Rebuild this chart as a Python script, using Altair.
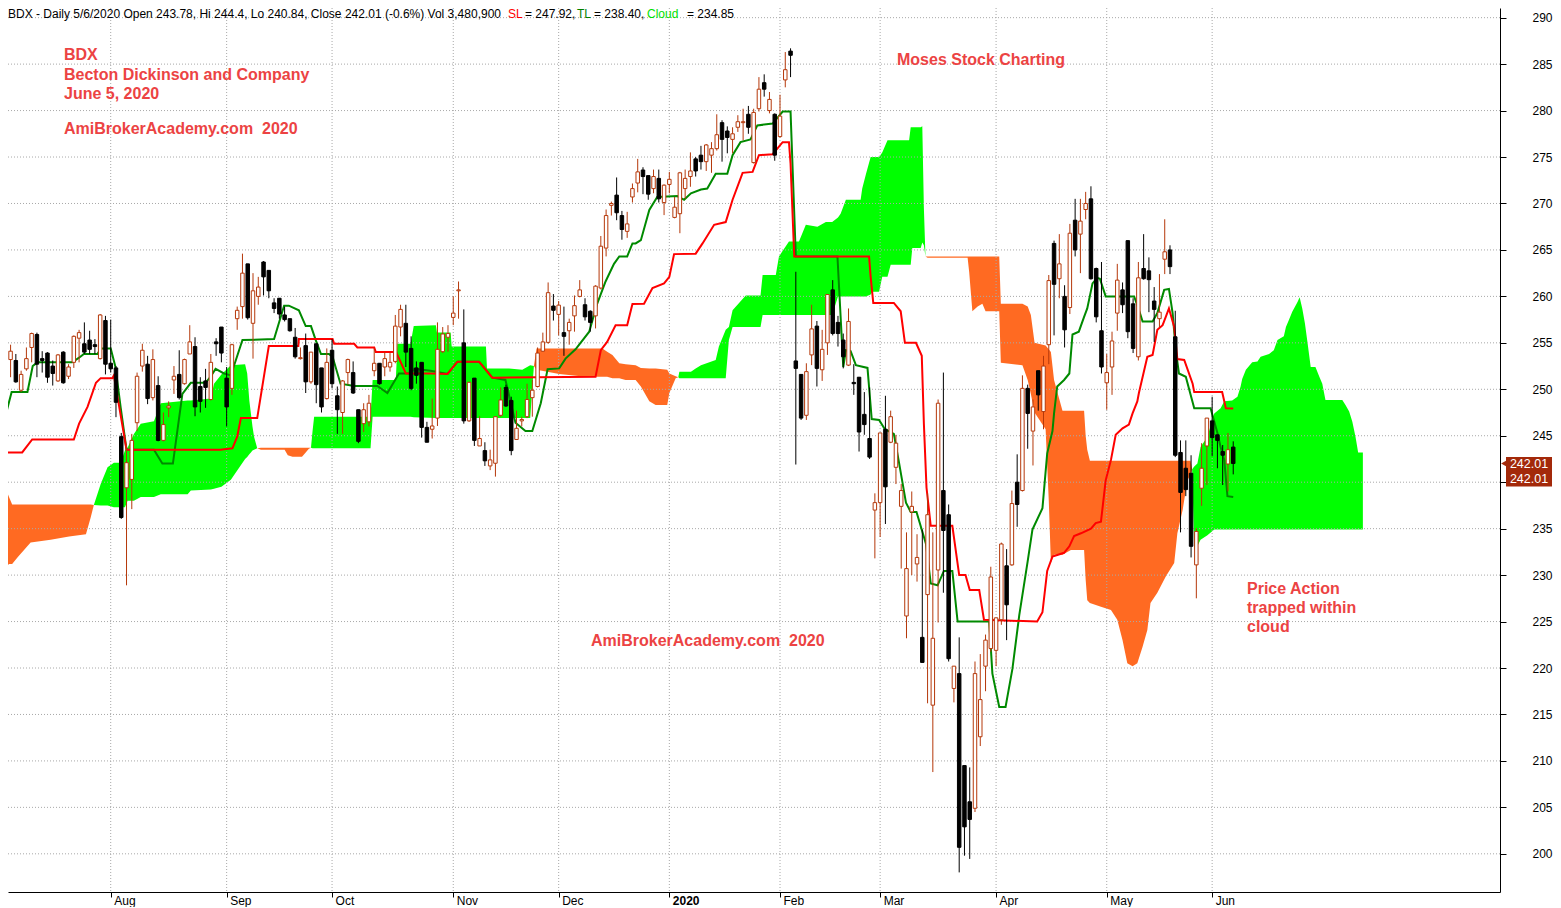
import altair as alt
import pandas as pd

FIRST_BAR = -20  # first bar index (bar 0 = first trading day of August 2019)

opens = [
    254.1, 253.2, 253.1, 249.9, 252.2, 254.5, 255.9, 253.3, 253.9, 252.5,
    250.9, 254.0, 251.4, 252.9, 255.5, 254.9, 255.3, 254.8, 253.3, 257.4,
    252.8, 252.3, 244.9, 239.4, 240.3, 246.4, 252.5, 252.7, 249.1, 250.4,
    244.5, 248.0, 251.0, 251.6, 250.6, 253.8, 254.6, 250.3, 250.9, 248.9,
    255.1, 256.7, 251.2, 250.1, 257.6, 258.9, 263.5, 257.1, 260.0, 263.7,
    262.8, 259.3, 259.8, 258.0, 257.6, 255.6, 253.3, 254.7, 250.8, 254.9,
    252.3, 249.0, 254.2, 249.3, 247.5, 251.8, 251.8, 247.8, 246.3, 246.5,
    252.0, 252.8, 252.4, 252.4, 253.0, 256.7, 257.1, 254.4, 252.3, 252.9,
    245.9, 245.7, 246.9, 254.05, 255.6, 257.74, 260.6, 255.0, 246.6, 251.2,
    243.9, 243.4, 241.75, 242.04, 247.2, 250.2, 248.8, 244.6, 246.6, 247.05,
    249.1, 250.3, 254.1, 255.05, 258.96, 258.06, 256.1, 256.3, 257.9, 260.0,
    259.1, 258.4, 257.9, 260.9, 265.2, 269.8, 270.9, 268.7, 267.0, 270.7,
    272.2, 273.6, 273.0, 271.6, 272.7, 270.1, 272.05, 268.5, 268.9, 271.6,
    272.9, 274.8, 275.2, 274.5, 275.2, 275.9, 278.7, 277.8, 276.9, 278.2,
    278.7, 279.6, 274.4, 280.2, 283.0, 280.0, 279.6, 277.2, 283.3, 286.4,
    253.05, 251.6, 247.2, 253.7, 256.8, 252.1, 255.0, 260.7, 257.2, 255.3,
    252.6, 250.74, 251.3, 247.3, 244.7, 237.0, 237.8, 245.7, 244.3, 241.6,
    237.4, 225.6, 236.8, 231.2, 223.3, 227.9, 216.0, 230.55, 239.1, 236.5,
    217.8, 219.4, 209.5, 205.6, 204.9, 212.6, 220.2, 222.1, 221.9, 225.2,
    231.0, 231.1, 240.0, 239.1, 250.1, 245.5, 252.0, 247.6, 254.8, 265.7,
    261.9, 260.0, 258.8, 268.2, 266.7, 269.35, 270.5, 263.0, 256.3, 250.7,
    252.4, 258.2, 260.7, 266.0, 259.2, 253.5, 263.0, 262.75, 259.5, 257.6,
    264.0, 265.0, 255.65, 243.2, 241.5, 240.96, 231.1, 239.35, 243.9, 246.6,
    245.1, 243.3, 241.96, 243.78,
]
highs = [
    255.2, 254.8, 253.8, 252.0, 254.5, 256.1, 256.1, 254.1, 254.0, 253.1,
    253.8, 254.1, 252.7, 255.8, 256.4, 257.2, 256.3, 255.4, 258.1, 257.9,
    257.5, 252.5, 245.3, 244.1, 245.2, 251.8, 254.9, 253.6, 254.3, 251.4,
    247.5, 248.7, 252.5, 254.2, 253.3, 256.9, 255.6, 251.3, 252.2, 253.8,
    255.5, 256.7, 252.4, 254.9, 258.9, 264.6, 263.5, 262.5, 262.1, 263.8,
    262.8, 259.8, 259.8, 258.9, 257.6, 256.6, 254.5, 256.0, 254.0, 254.9,
    252.3, 254.4, 255.4, 250.3, 251.0, 253.3, 253.0, 247.8, 248.5, 249.4,
    254.4, 252.8, 254.0, 253.9, 258.0, 259.1, 259.1, 255.7, 253.0, 252.9,
    246.5, 249.0, 257.2, 256.7, 256.9, 260.0, 261.6, 258.6, 250.8, 251.2,
    247.1, 244.3, 243.5, 247.05, 250.2, 250.5, 249.2, 247.7, 247.05, 250.6,
    251.0, 254.5, 256.1, 261.5, 260.25, 259.5, 258.9, 257.6, 260.1, 261.75,
    259.8, 258.5, 261.2, 266.5, 269.35, 270.2, 272.8, 269.2, 269.1, 272.15,
    274.8, 273.9, 273.0, 273.65, 273.65, 272.05, 273.4, 270.7, 273.4, 273.65,
    275.5, 275.0, 276.2, 276.4, 276.6, 279.6, 278.96, 278.3, 278.2, 279.5,
    280.2, 280.5, 280.2, 283.6, 283.9, 282.0, 279.7, 281.7, 286.3, 286.7,
    262.65, 251.6, 252.8, 259.1, 257.35, 256.4, 260.2, 261.75, 257.9, 256.0,
    258.7, 252.7, 251.3, 249.7, 250.2, 238.8, 245.3, 249.3, 247.7, 245.1,
    239.8, 234.6, 239.0, 234.4, 234.9, 238.8, 234.6, 248.9, 251.8, 237.6,
    220.2, 223.3, 209.5, 209.3, 220.7, 221.5, 223.6, 230.9, 225.4, 233.5,
    232.8, 239.1, 243.0, 251.5, 250.5, 248.9, 252.0, 253.6, 262.3, 266.0,
    266.7, 261.2, 267.8, 270.5, 270.5, 271.25, 271.85, 263.1, 263.7, 253.8,
    256.2, 263.5, 261.5, 266.0, 259.8, 263.7, 266.7, 264.2, 261.0, 262.4,
    268.3, 265.5, 258.45, 244.5, 244.5, 242.9, 235.05, 244.2, 246.9, 249.2,
    245.1, 244.0, 245.3, 244.4,
]
lows = [
    252.5, 251.3, 250.7, 249.7, 252.0, 252.9, 251.3, 251.8, 250.7, 250.4,
    250.8, 250.6, 251.1, 252.3, 252.9, 253.8, 253.8, 253.8, 253.2, 251.6,
    251.8, 247.0, 236.05, 228.9, 237.1, 245.5, 251.9, 248.4, 248.8, 244.4,
    244.4, 247.0, 249.5, 248.9, 250.5, 253.8, 247.1, 247.5, 248.0, 248.8,
    253.6, 252.9, 246.0, 249.4, 256.4, 257.6, 257.5, 253.3, 259.1, 260.1,
    259.8, 258.2, 257.6, 257.3, 256.2, 253.3, 253.2, 249.6, 250.6, 248.5,
    247.5, 248.9, 250.1, 245.2, 245.2, 250.5, 249.5, 244.2, 245.4, 246.0,
    251.4, 250.5, 251.4, 251.9, 252.8, 255.7, 252.4, 249.9, 250.6, 244.8,
    244.3, 244.7, 246.05, 253.9, 254.05, 256.9, 257.6, 246.3, 246.5, 243.9,
    243.9, 241.75, 241.3, 240.6, 247.05, 248.1, 242.9, 244.55, 246.0, 246.9,
    247.05, 250.2, 254.05, 254.9, 257.4, 255.8, 253.6, 254.8, 256.2, 259.9,
    257.4, 256.2, 256.55, 260.75, 264.3, 268.7, 268.2, 266.1, 266.3, 270.1,
    271.2, 271.0, 270.4, 271.1, 270.1, 268.75, 271.1, 268.4, 266.8, 270.5,
    271.8, 272.9, 273.65, 273.5, 273.3, 275.7, 274.5, 275.4, 275.4, 277.7,
    276.8, 277.5, 274.3, 279.9, 281.5, 279.7, 274.6, 277.1, 282.5, 283.6,
    241.9, 246.7, 246.7, 252.6, 250.3, 250.9, 253.7, 255.8, 254.6, 252.25,
    252.5, 249.4, 243.3, 245.1, 242.5, 231.8, 234.1, 235.5, 244.2, 239.8,
    230.7, 223.2, 230.0, 229.3, 220.6, 216.2, 208.8, 224.9, 228.1, 220.7,
    216.3, 198.0, 199.8, 199.45, 204.5, 211.6, 217.5, 221.75, 220.2, 224.65,
    223.0, 231.0, 235.2, 239.0, 243.6, 241.8, 247.7, 245.7, 252.7, 255.8,
    259.8, 254.5, 258.1, 264.3, 262.5, 268.3, 261.8, 257.2, 251.7, 247.8,
    249.4, 256.3, 258.2, 255.5, 253.9, 253.1, 261.8, 258.3, 255.1, 256.7,
    262.4, 262.4, 242.7, 234.6, 238.5, 231.9, 227.5, 237.45, 239.7, 242.8,
    241.5, 239.7, 239.0, 240.84,
]
closes = [
    255.2, 254.1, 250.8, 251.6, 253.3, 256.0, 252.7, 253.1, 251.3, 251.7,
    253.7, 250.7, 252.4, 255.7, 256.1, 254.0, 254.3, 254.6, 258.0, 252.7,
    252.2, 248.6, 236.2, 242.1, 244.5, 251.4, 254.2, 249.0, 253.2, 244.5,
    246.2, 248.2, 251.4, 249.1, 253.2, 255.1, 248.1, 248.7, 250.2, 252.9,
    254.9, 253.9, 248.1, 254.8, 258.5, 262.5, 257.7, 260.6, 261.0, 262.1,
    260.6, 258.7, 258.1, 257.5, 256.3, 253.5, 253.4, 250.8, 254.0, 250.5,
    248.1, 252.9, 250.6, 247.8, 250.9, 253.2, 249.6, 244.4, 247.8, 248.5,
    252.8, 250.6, 253.3, 252.9, 256.8, 258.6, 254.0, 250.1, 251.5, 245.9,
    244.3, 246.05, 254.3, 255.95, 256.0, 258.2, 260.7, 246.6, 250.75, 244.5,
    244.7, 242.3, 242.4, 247.05, 248.85, 248.2, 243.4, 245.8, 246.75, 248.9,
    249.9, 253.9, 255.1, 260.4, 258.5, 259.06, 255.7, 257.2, 259.0, 260.7,
    257.8, 257.2, 261.1, 265.4, 268.7, 270.0, 269.0, 267.2, 267.8, 271.6,
    273.4, 272.9, 271.0, 272.9, 270.5, 271.97, 272.6, 269.6, 273.3, 272.7,
    273.5, 273.5, 274.5, 276.3, 275.9, 277.4, 276.9, 277.1, 277.5, 278.8,
    278.8, 278.2, 279.8, 282.3, 282.3, 281.2, 275.2, 279.4, 284.4, 285.95,
    252.25, 246.9, 251.9, 256.5, 252.25, 254.3, 260.2, 256.0, 256.0, 253.5,
    257.3, 250.6, 245.4, 246.2, 242.7, 237.8, 245.3, 239.5, 247.05, 244.2,
    239.1, 230.7, 237.4, 231.9, 220.6, 236.5, 223.2, 248.5, 234.8, 221.0,
    220.2, 200.7, 202.9, 203.7, 219.4, 216.6, 223.0, 229.8, 225.4, 233.35,
    226.8, 237.7, 237.6, 250.1, 247.4, 248.1, 249.4, 252.5, 261.7, 261.3,
    263.5, 256.4, 266.8, 265.0, 268.1, 270.0, 261.9, 257.8, 252.4, 251.8,
    255.2, 261.75, 259.1, 256.2, 254.4, 262.0, 261.9, 261.8, 258.6, 258.3,
    264.8, 263.2, 242.9, 238.9, 239.2, 233.1, 234.7, 241.5, 246.9, 244.8,
    244.5, 242.9, 243.5, 242.01,
]

# Turning line (TL, green) vertices: bar position, price
tl_i = [-19.9, -18.8, -15.8, -14.8, -13.9, -7.3, -6.0, -5.1, -2.5, -1.9, 0.0, 0.9, 1.9, 3.0, 8.2,
        9.8, 11.8, 13.6, 15.2, 18.0, 19.0, 19.9, 21.5, 22.8, 25.0, 31.0, 32.9, 33.8, 35.7, 37.0,
        38.0, 38.9, 39.9, 41.4, 42.1, 43.6, 46.2, 50.6, 52.5, 54.7, 56.9, 57.6, 60.7, 63.9, 65.8,
        69.9, 72.4, 74.9, 76.8, 78.7, 80.0, 81.6, 82.9, 85.1, 86.3, 88.2, 90.8, 92.3, 93.9, 95.5,
        96.5, 98.0, 99.0, 99.6, 100.6, 102.2, 103.7, 107.5, 108.8, 110.1, 112.0, 113.2, 114.8, 117.0,
        118.0, 119.5, 121.4, 122.7, 125.6, 127.5, 129.0, 130.0, 137.9, 139.0, 139.5, 140.4, 141.4,
        143.6, 144.4, 145.8, 146.9, 148.6, 149.6, 150.9, 151.8, 152.9, 154.7, 155.6, 156.9, 158.1,
        159.7, 160.7, 166.7, 167.3, 168.6, 169.8, 171.1, 172.4, 174.0, 174.9, 176.8, 177.7, 178.7,
        179.0, 179.6, 180.9, 181.9, 182.5, 183.7, 184.7, 185.3, 186.3, 187.2, 187.7, 188.8, 194.2,
        195.3, 195.8, 197.7, 198.6, 199.9, 200.8, 201.5, 202.1, 202.7, 204.0, 205.6, 208.7, 210.0,
        210.6, 211.3, 211.9, 213.0]
tl_v = [247.3, 249.7, 249.7, 252.5, 252.9, 252.9, 253.4, 253.8, 253.8, 254.4, 254.4, 252.4, 248.0, 243.5, 243.5,
        242.0, 242.0, 249.5, 250.7, 250.7, 251.4, 252.2, 251.7, 251.5, 255.3, 255.4, 259.0, 259.0, 258.5, 256.8,
        256.8, 255.3, 253.8, 253.8, 253.5, 250.6, 250.35, 250.35, 249.6, 251.7, 251.7, 252.2, 252.0, 251.65, 252.97,
        252.97, 251.25, 251.0, 246.4, 245.5, 245.5, 248.5, 252.15, 252.25, 253.3, 254.3, 256.2, 259.2, 261.6, 263.5,
        264.3, 264.3, 265.7, 265.7, 266.05, 269.3, 270.7, 270.8, 270.4, 271.1, 271.5, 271.6, 273.2, 273.2,
        275.2, 276.6, 276.9, 278.4, 278.6, 279.9, 279.9, 264.3, 264.3, 252.4, 254.2, 254.1, 252.6,
        252.3, 246.8, 246.7, 245.7, 245.2, 242.05, 237.8, 236.8, 236.8, 233.35, 229.1, 228.9, 230.45,
        230.45, 225.0, 225.0, 219.4, 215.8, 215.8, 219.9, 225.7, 231.5, 234.9, 237.2, 243.1, 245.5,
        247.4, 250.3, 251.0, 251.7, 255.9, 256.2, 257.8, 258.7, 261.4, 262.0, 261.9, 260.0, 260.0,
        258.2, 257.3, 257.3, 258.2, 260.7, 260.8, 258.2, 254.2, 251.7, 251.35, 247.95, 247.95, 245.3,
        243.8, 242.4, 238.5, 238.4]

# Standard line (SL, red) vertices
sl_i = [-19.9, -16.8, -14.9, -7.0, -6.0, -4.4, -2.8, -1.9, 0.3, 0.6, 3.0, 20.8, 23.1, 24.0, 24.7,
        27.8, 30.0, 35.6, 35.7, 42.1, 42.4, 46.2, 46.8, 50.0, 50.3, 54.1, 54.4, 56.0, 60.7, 63.9,
        65.8, 69.9, 72.4, 92.0, 93.0, 94.2, 95.8, 98.0, 99.0, 101.2, 102.8, 105.0, 106.0, 106.9,
        111.0, 112.3, 114.5, 116.7, 118.0, 119.9, 121.8, 123.0, 125.6, 127.5, 128.7, 129.0, 129.7,
        143.9, 144.2, 144.7, 148.6, 149.9, 150.7, 152.8, 153.9, 154.3, 154.8, 155.6, 159.7, 161.0,
        162.2, 163.0, 164.8, 165.7, 175.8, 176.8, 177.7, 178.7, 180.9, 181.9, 182.8, 184.1, 186.0,
        186.9, 187.9, 188.8, 189.8, 190.7, 192.0, 193.2, 193.9, 194.8, 195.1, 196.7, 197.7, 198.6,
        199.6, 200.2, 200.8, 201.8, 202.4, 203.7, 205.3, 205.6, 210.9, 211.6, 213.0]
sl_v = [243.2, 243.2, 244.6, 244.6, 246.3, 248.1, 250.7, 251.2, 251.2, 251.5, 243.5, 243.5, 243.65, 244.9, 246.9,
        246.9, 254.65, 254.65, 255.4, 255.4, 254.9, 254.9, 254.5, 254.5, 254.0, 254.0, 253.7, 251.7, 251.7, 251.65,
        252.97, 252.97, 251.25, 251.35, 254.2, 255.1, 256.9, 256.9, 259.17, 259.2, 260.9, 261.4, 262.1, 264.55,
        264.6, 265.7, 267.7, 268.0, 270.4, 273.3, 273.4, 275.2, 275.3, 276.6, 276.6, 274.3, 264.3,
        264.3, 262.1, 259.3, 259.3, 258.4, 255.0, 255.0, 253.6, 246.3, 239.4, 235.3, 235.3, 230.0,
        230.0, 228.4, 228.4, 225.2, 225.0, 226.0, 230.45, 232.0, 232.4, 233.1, 234.2, 234.5, 235.0,
        235.6, 235.75, 240.2, 242.4, 245.1, 245.8, 246.2, 247.4, 248.7, 249.6, 253.5, 253.7, 256.4,
        256.9, 257.8, 258.7, 256.7, 253.25, 253.15, 250.6, 249.7, 249.7, 247.95, 247.92]

# Cloud (leading span A and leading span B, already shifted forward)
cloud_i = [-19.9, -19.3, -18.7, -17.7, -15.2, -11.4, -7.9, -4.7, -3.8, -3.2,
           -1.9, -0.6, 0.6, 1.9, 2.7, 3.2, 4.4, 5.7, 8.2, 9.5, 14.6, 15.2, 19.0, 19.6, 21.0, 22.8,
           25.5, 25.9, 26.3, 26.6, 26.9, 27.2, 27.8,
           28.5, 33.0, 33.6, 34.5, 36.3, 37.0, 37.6, 38.0,
           38.3, 38.6, 49.3, 49.7, 54.1, 54.4, 56.9, 57.5, 61.7, 61.9, 64.5, 64.7, 71.2, 71.4, 75.6,
           78.1, 79.6, 80.3,
           80.8, 85.1, 90.1, 93.3, 94.2, 95.2, 96.5, 97.7, 99.6, 100.6, 102.2, 103.4, 105.6, 106.0,
           107.2, 107.7,
           107.9, 110.1, 111.0, 112.0, 114.8, 115.4, 116.7, 117.3, 118.0, 120.5, 123.3, 123.7, 126.2,
           126.8, 128.7, 130.6, 131.9, 134.1, 135.7, 136.9, 138.0, 138.5, 139.5, 142.3, 142.6, 143.3,
           144.2, 144.5, 145.8, 146.4, 147.4, 148.0, 151.5, 151.8, 152.1, 153.7, 154.0, 154.3, 154.6,
           155.0, 162.6, 162.9, 163.5, 164.5, 165.4, 166.0, 168.6, 168.9, 173.0, 174.0, 174.6, 175.3,
           177.4, 178.0, 178.4, 179.0, 180.6, 182.2, 184.7, 185.0, 185.3, 185.8, 187.9, 189.8, 191.0,
           192.0, 192.9, 193.9, 194.8, 195.8, 196.7, 197.3, 198.6, 200.2, 201.8, 202.4, 203.4, 204.3,
           204.9, 205.2,
           205.6, 206.2, 206.8, 208.1, 209.4, 210.6, 211.3, 212.8, 213.8, 214.4, 214.7, 215.4, 216.0,
           216.6, 217.6, 218.2, 219.8, 220.7, 221.4, 222.6, 223.0, 223.6, 224.2, 225.2, 225.6, 226.1,
           226.6, 227.1, 227.7, 228.6, 229.3, 229.9, 230.5, 233.7, 234.3, 235.0, 235.6, 236.2, 236.6,
           236.7, 237.6]
span_a = [230.85, 231.2, 231.2, 231.9, 233.5, 233.8, 234.15, 234.4, 236.2, 237.55,
          239.8, 241.6, 242.1, 242.1, 243.4, 243.7, 245.2, 246.3, 246.55, 248.5, 248.8, 248.8, 249.0, 250.6, 251.6, 252.6,
          252.7, 251.7, 248.8, 247.4, 246.0, 244.9, 243.65,
          243.5, 243.5, 242.9, 242.75, 242.75, 243.2, 243.6, 243.7,
          245.5, 247.05, 247.05, 251.0, 251.0, 254.9, 254.9, 256.8, 256.9, 256.1, 256.1, 254.6, 254.6, 252.25, 252.25,
          252.1, 252.6, 252.5,
          252.1, 251.65, 251.35, 251.35, 251.35, 251.2, 251.2, 251.0, 251.0, 250.3, 248.7, 248.3, 248.3, 249.6,
          251.2, 251.3,
          251.9, 251.9, 252.25, 252.6, 253.15, 254.6, 256.4, 256.7, 258.5, 260.1, 260.1, 262.3, 262.3,
          264.3, 265.9, 265.9, 267.7, 267.5, 268.0, 268.0, 268.5, 268.9, 270.4, 270.4, 271.6, 273.15,
          275.0, 275.0, 275.0, 275.5, 276.8, 276.8, 276.8, 278.2, 278.2, 278.2, 278.3, 269.5, 264.3,
          264.15, 264.15, 262.6, 258.4, 258.9, 259.2, 258.4, 258.4, 252.85, 252.6, 251.0, 249.5, 247.5,
          245.7, 238.0, 231.3, 232.2, 232.2, 232.7, 232.7, 229.5, 227.3, 227.0, 226.6, 226.25, 225.2,
          223.0, 220.5, 220.2, 220.5, 222.3, 224.1, 227.0, 228.1, 229.85, 231.3, 234.5, 237.0, 240.2,
          240.8, 241.4,
          241.7, 242.0, 243.8, 244.9, 247.4, 247.95, 248.7, 248.8, 249.2, 250.3, 251.1, 252.1, 252.5,
          252.9, 253.0, 253.5, 253.8, 254.2, 255.3, 255.7, 256.7, 257.5, 258.35, 259.4, 259.9, 258.7,
          257.1, 255.0, 252.4, 252.4, 251.4, 250.6, 248.85, 248.85, 248.3, 247.6, 246.5, 244.9, 243.55,
          243.2, 243.2]
span_b = [239.3, 238.4, 237.6, 237.6, 237.6, 237.6, 237.6, 237.6, 237.6, 237.55,
          237.5, 237.5, 237.3, 237.3, 237.3, 238.0, 238.0, 238.4, 238.4, 238.7, 238.7, 239.1, 239.2, 239.3, 239.5, 240.25,
          242.5, 242.7, 243.0, 243.2, 243.4, 243.5, 243.65,
          243.7, 243.7, 243.7, 243.7, 243.7, 243.7, 243.7, 243.7,
          243.65, 243.65, 243.65, 247.05, 247.05, 247.05, 247.05, 247.0, 246.9, 246.9, 246.9, 246.9, 246.9, 246.9, 246.9,
          246.9, 246.9, 252.5,
          254.4, 254.4, 254.4, 254.4, 254.05, 253.7, 252.8, 252.7, 252.6, 252.3, 252.25, 252.25, 252.1, 251.7,
          251.4, 251.3,
          251.2, 251.2, 251.2, 251.2, 251.2, 251.2, 251.2, 255.3, 256.7, 256.7, 256.7, 258.0, 258.0,
          258.0, 258.0, 258.0, 258.0, 258.0, 258.0, 258.0, 260.0, 260.0, 260.0, 260.0, 260.0, 260.0,
          260.2, 260.5, 260.5, 262.1, 262.1, 263.4, 263.4, 263.4, 265.2, 265.2, 265.8, 265.5, 264.3,
          264.3, 264.3, 264.3, 264.3, 264.3, 264.3, 264.3, 264.3, 259.2, 259.2, 258.9, 258.0, 255.0,
          254.7, 254.3, 254.0, 251.0, 247.7, 247.7, 247.7, 245.0, 243.5, 242.3, 242.3, 242.3, 242.3,
          242.3, 242.3, 242.3, 242.3, 242.3, 242.3, 242.3, 242.3, 242.3, 242.3, 242.3, 242.3, 242.3,
          242.3, 241.4,
          232.7, 233.1, 233.8, 234.3, 234.9, 234.9, 234.9, 234.9, 234.9, 234.9, 234.9, 234.9, 234.9,
          234.9, 234.9, 234.9, 234.9, 234.9, 234.9, 234.9, 234.9, 234.9, 234.9, 234.9, 234.9, 234.9,
          234.9, 234.9, 234.9, 234.9, 234.9, 234.9, 234.9, 234.9, 234.9, 234.9, 234.9, 234.9, 234.9,
          234.9, 234.9]

month_idx = [0, 22, 42, 65, 85, 106, 127, 146, 168, 189, 209]
month_lbl = ["Aug", "Sep", "Oct", "Nov", "Dec", "2020", "Feb", "Mar", "Apr", "May", "Jun"]
price_ticks = list(range(200, 291, 5))

# ---------------------------------------------------------------- styling
FONT = "Liberation Sans"
UP = "#b5380a"
GREEN_CLOUD = "#00ff00"
ORANGE_CLOUD = "#ff6a22"
TL_COLOR = "#008a00"
SL_COLOR = "#ff0000"
NOTE = "#ec4343"
GRID = "#a8a8a8"
BADGE = "#a3290a"

# plot area: 1492 px wide, 884 px tall; 5.27 px per bar, 9.29 px per dollar
W, H = 1492, 884
XMIN, XMAX = -19.49, 263.62
YMIN, YMAX = 195.89, 291.04
xs = alt.Scale(domain=[XMIN, XMAX], nice=False, zero=False)
ys = alt.Scale(domain=[YMIN, YMAX], nice=False, zero=False)

label_expr = ("[" + ",".join("'%s'" % m for m in month_lbl) + "][indexof(["
              + ",".join(str(v) for v in month_idx) + "], datum.value)]")
xaxis = alt.Axis(values=month_idx, labelExpr=label_expr, title=None, grid=False,
                 tickSize=5, tickColor="black", domainColor="black", labelColor="black",
                 labelFont=FONT, labelFontSize=12, labelAlign="left", labelBaseline="alphabetic",
                 labelPadding=7, labelOffset=3, labelOverlap=False, labelFlush=False,
                 labelFontWeight={"condition": {"test": "datum.value == 106", "value": "bold"},
                                  "value": "normal"})
# the 240 label sits under the last-price badges, as in the original
yaxis = alt.Axis(orient="right", values=price_ticks, format="d", title=None, grid=False,
                 labelExpr="datum.value == 240 ? '' : datum.label",
                 tickSize=6, tickColor="black", domainColor="black", labelColor="black",
                 labelFont=FONT, labelFontSize=12, labelAlign="left", labelBaseline="middle",
                 labelPadding=26, labelOverlap=False, labelFlush=False)

# ---------------------------------------------------------------- frames
n = len(closes)
candles = pd.DataFrame({
    "i": [FIRST_BAR + k for k in range(n)],
    "o": opens[:n], "h": highs[:n], "l": lows[:n], "c": closes[:n],
})
candles["up"] = (candles["c"] >= candles["o"]).astype(int)
candles["lo"] = candles[["o", "c"]].min(axis=1)
candles["hi"] = candles[["o", "c"]].max(axis=1)
HALF = 0.33
candles["x1"] = candles["i"] - HALF
candles["x2"] = candles["i"] + HALF

# cloud segments split where span A and span B cross
segments = []  # list of (kind, rows)
cur_kind, cur_rows, pending = None, [], None
for x, a, b in zip(cloud_i, span_a, span_b):
    if a == b:
        if cur_kind is not None:
            cur_rows.append((x, a, b))
            segments.append((cur_kind, cur_rows))
            cur_kind, cur_rows = None, []
        pending = (x, a, b)
        continue
    kind = "green" if a > b else "orange"
    if cur_kind is None:
        cur_kind = kind
        cur_rows = [pending] if pending is not None else []
        pending = None
    elif kind != cur_kind:
        segments.append((cur_kind, cur_rows))
        cur_kind, cur_rows = kind, []
    cur_rows.append((x, a, b))
if cur_kind is not None and cur_rows:
    segments.append((cur_kind, cur_rows))

tl = pd.DataFrame({"i": tl_i, "v": tl_v})
sl = pd.DataFrame({"i": sl_i, "v": sl_v})

X = alt.X("i:Q", scale=xs, axis=xaxis)


def Y(field):
    return alt.Y(field, scale=ys, axis=yaxis)


layers = []
for kind, seg_rows in segments:
    df = pd.DataFrame(seg_rows, columns=["i", "a", "b"])
    col = GREEN_CLOUD if kind == "green" else ORANGE_CLOUD
    layers.append(
        alt.Chart(df).mark_area(color=col, clip=True).encode(x=X, y=Y("a:Q"), y2="b:Q")
    )

layers.append(
    alt.Chart(pd.DataFrame({"p": price_ticks})).mark_rule(
        color=GRID, strokeDash=[1, 2], strokeWidth=1).encode(y=Y("p:Q"))
)
layers.append(
    alt.Chart(pd.DataFrame({"i": month_idx})).mark_rule(
        color=GRID, strokeDash=[1, 2], strokeWidth=1).encode(x=X)
)
layers.append(
    alt.Chart(tl).mark_line(color=TL_COLOR, strokeWidth=2, clip=True).encode(x=X, y=Y("v:Q"))
)
layers.append(
    alt.Chart(sl).mark_line(color=SL_COLOR, strokeWidth=2, clip=True).encode(x=X, y=Y("v:Q"))
)
layers.append(
    alt.Chart(candles).mark_rule(strokeWidth=1, clip=True).encode(
        x=X, y=Y("l:Q"), y2="h:Q",
        color=alt.condition("datum.up == 1", alt.value(UP), alt.value("black")),
    )
)
layers.append(
    alt.Chart(candles).mark_rect(strokeWidth=1, clip=True).encode(
        x=alt.X("x1:Q", scale=xs, axis=xaxis), x2="x2:Q", y=Y("lo:Q"), y2="hi:Q",
        fill=alt.condition("datum.up == 1", alt.value("white"), alt.value("black")),
        stroke=alt.condition("datum.up == 1", alt.value(UP), alt.value("black")),
    )
)


def note(text, x, y, color=NOTE, size=16, weight="bold", baseline="middle"):
    return alt.Chart(pd.DataFrame({"t": [text]})).mark_text(
        align="left", baseline=baseline, font=FONT, fontSize=size, fontWeight=weight, color=color
    ).encode(x=alt.value(x), y=alt.value(y), text="t:N")


layers += [
    note("BDX", 56, 47),
    note("Becton Dickinson and Company", 56, 66.5),
    note("June 5, 2020", 56, 85.5),
    note("AmiBrokerAcademy.com\u00a0 2020", 56, 121),
    note("Moses Stock Charting", 889, 52),
    note("AmiBrokerAcademy.com\u00a0 2020", 583, 633),
    note("Price Action", 1239, 581),
    note("trapped within", 1239, 600),
    note("cloud", 1239, 619),
]

header = [
    ("BDX - Daily 5/6/2020 Open %.2f, Hi %s, Lo %.2f, Close %.2f (-0.6%%) Vol 3,480,900"
     % (opens[-1], highs[-1], lows[-1], closes[-1]), 0, "black"),
    ("SL", 500, "#ff0000"),
    ("= %.2f," % sl_v[-1], 517, "black"),
    ("TL", 569, "#008000"),
    ("= %.2f," % tl_v[-1], 586, "black"),
    ("Cloud", 639, "#00e000"),
    ("= 234.85", 679, "black"),
]
for t, x, col in header:
    layers.append(note(t, x, 1, color=col, size=12, weight="normal", baseline="top"))

# last close badges on the price axis
last = pd.DataFrame({"v": [closes[-1]], "t": ["%.2f" % closes[-1]]})
layers.append(
    alt.Chart(last).mark_point(shape="triangle-left", filled=True, size=45, color=BADGE, opacity=1).encode(
        x=alt.value(1496), y=Y("v:Q"))
)
layers.append(
    alt.Chart(last).mark_rect(color=BADGE, yOffset=-6.5, y2Offset=7.5).encode(
        x=alt.value(1498), x2=alt.value(1544), y=Y("v:Q"), y2="v:Q")
)
layers.append(
    alt.Chart(last).mark_rect(color=BADGE, yOffset=7.5, y2Offset=23).encode(
        x=alt.value(1498), x2=alt.value(1544), y=Y("v:Q"), y2="v:Q")
)
for dy in (0.5, 15.5):
    layers.append(
        alt.Chart(last).mark_text(color="white", font=FONT, fontSize=12.5, align="center",
                                  baseline="middle", dy=dy).encode(
            x=alt.value(1521), y=Y("v:Q"), text="t:N")
    )

chart = alt.layer(*layers).properties(
    width=W, height=H,
    autosize=alt.AutoSizeParams(type="none"),
    padding={"left": 0, "top": 0, "right": 53, "bottom": 15},
    background="white",
).configure_view(strokeWidth=0)

chart.save("out.html", embed_options={"renderer": "svg", "actions": False})
